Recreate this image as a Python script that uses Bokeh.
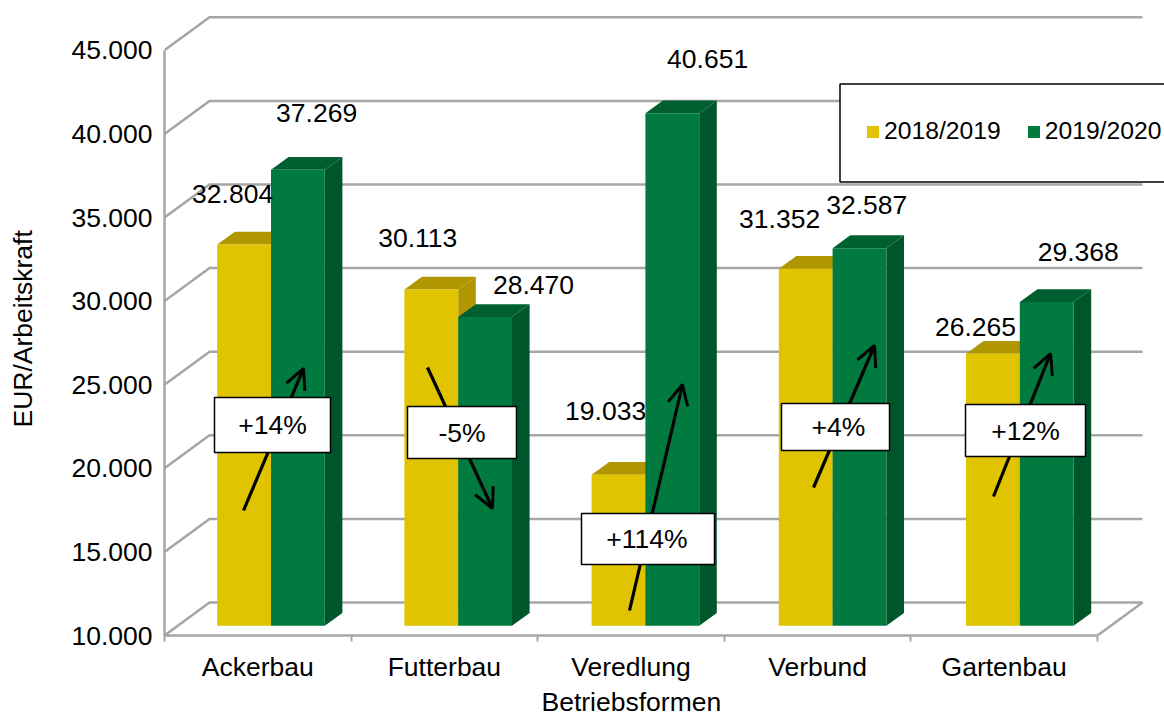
from bokeh.plotting import figure
from bokeh.embed import file_html
from bokeh.resources import INLINE
from bokeh.core.properties import value
from bokeh.models import FixedTicker, Arrow, OpenHead, Legend, LegendItem, Range1d, Title

# ---- data ----
categories = ["Ackerbau", "Futterbau", "Veredlung", "Verbund", "Gartenbau"]
series_names = ["2018/2019", "2019/2020"]
values_2018 = [32804, 30113, 19033, 31352, 26265]
values_2019 = [37269, 28470, 40651, 32587, 29368]
labels_2018 = ["32.804", "30.113", "19.033", "31.352", "26.265"]
labels_2019 = ["37.269", "28.470", "40.651", "32.587", "29.368"]
change_labels = ["+14%", "-5%", "+114%", "+4%", "+12%"]
y_ticks = [10000, 15000, 20000, 25000, 30000, 35000, 40000, 45000]
y_tick_labels = ["10.000", "15.000", "20.000", "25.000", "30.000", "35.000", "40.000", "45.000"]

# ---- geometry of the fake 3D view (pixels) ----
FONT = "Liberation Sans"
FS = "26.5px"
PX_X = 186.6          # pixels per category
PX_Y = 0.01672        # pixels per EUR
LEFT, BOTTOM = 164, 635   # position of the frame origin in the picture


def dx(px):
    return px / PX_X


def dy(px):
    return px / PX_Y


def X(px):
    return (px - LEFT) / PX_X


def Y(py):
    return y_ticks[0] + (BOTTOM - py) / PX_Y


WALL_X, WALL_Y = dx(45), dy(33)
BAR_STEP = dx(187.2)
BAR_START = dx(52.7)
BAR_OFF_Y = dy(9.7)
BAR_W = dx(53.8)
SIDE_X, SIDE_Y = dx(17.6), dy(12.8)

GRID = "#a6a6a6"
YEL, YEL_DARK = "#e0c400", "#b09600"
GRN, GRN_SIDE, GRN_TOP = "#007a3f", "#00562b", "#005f30"

p = figure(frame_width=1000, frame_height=627, output_backend="svg", toolbar_location=None,
           min_border_left=164, min_border_top=8, min_border_right=0, min_border_bottom=78,
           x_range=Range1d(0, 1000 / PX_X), y_range=Range1d(y_ticks[0], y_ticks[0] + 627 / PX_Y),
           background_fill_color="white", border_fill_color="white", outline_line_color=None)
p.grid.visible = False

# axes
xa, ya = p.xaxis[0], p.yaxis[0]
n = len(categories)
centers = [i + 0.5 for i in range(n)]
xa.ticker = FixedTicker(ticks=centers, minor_ticks=list(range(n + 1)))
xa.major_label_overrides = dict(zip(centers, categories))
xa.bounds = (0, n)
xa.major_tick_out = 0
xa.major_tick_in = 0
xa.minor_tick_out = 6
xa.minor_tick_in = 0
xa.minor_tick_line_color = GRID
xa.minor_tick_line_width = 2
xa.axis_line_color = GRID
xa.axis_line_width = 2.5
xa.major_label_standoff = 10

ya.ticker = FixedTicker(ticks=y_ticks)
ya.major_label_overrides = dict(zip(y_ticks, y_tick_labels))
ya.bounds = (y_ticks[0], y_ticks[-1])
ya.major_tick_out = 0
ya.major_tick_in = 0
ya.minor_tick_out = 0
ya.minor_tick_in = 0
ya.axis_line_color = GRID
ya.axis_line_width = 2.5
ya.major_label_standoff = 12

for a in (xa, ya):
    a.major_label_text_font = FONT
    a.major_label_text_font_size = FS
    a.major_label_text_color = "black"

# axis titles, as side titles so they can be shifted along the axis
p.add_layout(Title(text="Betriebsformen", text_font=FONT, text_font_size=FS, text_font_style="normal",
                   text_color="black", align="left", offset=377, standoff=0), "below")
# a blank spacer between the tick labels and the y title pushes the title outwards
p.add_layout(Title(text=" ", text_font=FONT, text_font_size="1px", standoff=28), "left")
p.add_layout(Title(text="EUR/Arbeitskraft", text_font=FONT, text_font_size=FS, text_font_style="normal",
                   text_color="black", align="left", offset=208, standoff=0), "left")

# walls and floor
xs = [[0, WALL_X, n + WALL_X] for _ in y_ticks]
ys = [[t, t + WALL_Y, t + WALL_Y] for t in y_ticks]
p.multi_line(xs, ys, line_color=GRID, line_width=2.5)
p.line([n, n + WALL_X], [y_ticks[0], y_ticks[0] + WALL_Y], line_color=GRID, line_width=2.5)


# bars
def bar_parts(vals, slot):
    lefts = [BAR_START + i * BAR_STEP + slot * BAR_W for i in range(n)]
    rights = [l + BAR_W for l in lefts]
    base = y_ticks[0] + BAR_OFF_Y
    tops = [v + BAR_OFF_Y for v in vals]
    side_x = [[r, r + SIDE_X, r + SIDE_X, r] for r in rights]
    side_y = [[base, base + SIDE_Y, t + SIDE_Y, t] for t in tops]
    top_x = [[l, l + SIDE_X, r + SIDE_X, r] for l, r in zip(lefts, rights)]
    top_y = [[t, t + SIDE_Y, t + SIDE_Y, t] for t in tops]
    return lefts, rights, base, tops, side_x, side_y, top_x, top_y


legend_items = []
all_tops = []
for slot, (vals, c, c_top, c_side, name) in enumerate(
        [(values_2018, YEL, YEL_DARK, YEL_DARK, series_names[0]),
         (values_2019, GRN, GRN_TOP, GRN_SIDE, series_names[1])]):
    l, r, base, t, sx, sy, tx, ty = bar_parts(vals, slot)
    p.patches(sx, sy, fill_color=c_side, line_color=None)
    p.patches(tx, ty, fill_color=c_top, line_color=None)
    q = p.quad(left=l, right=r, bottom=base, top=t, fill_color=c, line_color=None)
    legend_items.append(LegendItem(label=name, renderers=[q]))
    all_tops.append(([a + BAR_W / 2 for a in l], t))

# value labels: hand-placed offsets (px) from each bar's front top centre
off_2018 = [(-11.5, -50.6), (-13.6, -51.6), (-12.9, -64), (-26.1, -49.9), (-17.4, -27)]
off_2019 = [(18.7, -56.8), (48.4, -32), (35.3, -54), (7.2, -43), (31.6, -50)]
for (cx, t), labs, off in zip(all_tops, (labels_2018, labels_2019), (off_2018, off_2019)):
    p.text([a + dx(o[0]) for a, o in zip(cx, off)],
           [b - dy(o[1]) for b, o in zip(t, off)],
           text=labs, text_font=value(FONT), text_font_size=FS, text_color="black",
           text_align="center", text_baseline="middle")

# legend panel
p.quad(left=[X(839.5)], right=[X(1175)], top=[Y(83.5)], bottom=[Y(181.5)],
       fill_color="white", line_color="black", line_width=1.5)
leg = Legend(items=legend_items, orientation="horizontal", location=(701, 490),
             background_fill_alpha=0, border_line_color=None, padding=0, margin=0,
             glyph_width=15, glyph_height=15, label_standoff=4, spacing=25,
             label_text_font=FONT, label_text_font_size="24.7px", label_text_color="black")
p.add_layout(leg, "center")

# change arrows and boxes
arrow_pts = [(243, 510, 303, 368), (427, 367, 492, 508), (629, 610, 682, 384),
             (813, 487, 874, 345), (993, 496, 1050, 353)]
for a in arrow_pts:
    p.add_layout(Arrow(end=OpenHead(size=20, line_color="black", line_width=3), line_color="black", line_width=3.2,
                       x_start=X(a[0]), y_start=Y(a[1]), x_end=X(a[2]), y_end=Y(a[3])))

boxes = [(214, 330, 397, 452), (407, 516, 406, 458), (581, 714, 513, 564), (781, 889, 403, 450), (965, 1085, 404, 456)]
text_shift = [0, 0, -1, 3, 0]
p.quad(left=[X(b[0]) for b in boxes], right=[X(b[1]) for b in boxes],
       top=[Y(b[2]) for b in boxes], bottom=[Y(b[3]) for b in boxes],
       fill_color="white", line_color="black", line_width=1.5, level="overlay")
p.text([X((b[0] + b[1]) / 2 + s) for b, s in zip(boxes, text_shift)], [Y((b[2] + b[3]) / 2) for b in boxes],
       text=change_labels, text_font=value(FONT), text_font_size=FS, text_color="black",
       text_align="center", text_baseline="middle", level="overlay")

open("out.html", "w").write(file_html(p, INLINE))
